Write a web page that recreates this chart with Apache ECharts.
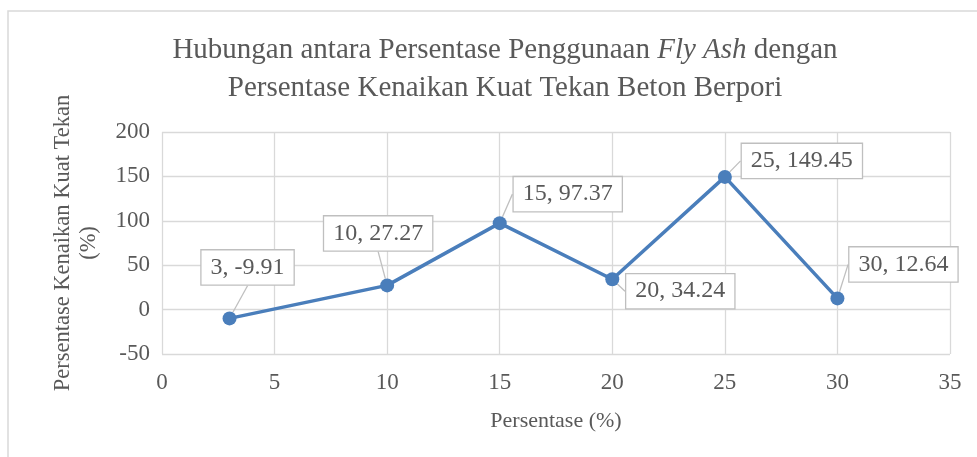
<!DOCTYPE html>
<html>
<head>
<meta charset="utf-8">
<script src="https://cdn.jsdelivr.net/npm/echarts@6/dist/echarts.min.js"></script>
<style>
html,body{margin:0;padding:0;background:#fff;}
#chart{width:977px;height:457px;}
</style>
</head>
<body>
<div id="chart"></div>
<script>
// Data
const xValues = [3, 10, 15, 20, 25, 30];
const yValues = [-9.91, 27.27, 97.37, 34.24, 149.45, 12.64];
const xTicks = [0, 5, 10, 15, 20, 25, 30, 35];
const yTicks = [-50, 0, 50, 100, 150, 200];
const titleLine1a = 'Hubungan antara Persentase Penggunaan ';
const titleItalic = 'Fly Ash';
const titleLine1b = ' dengan';
const titleLine2 = 'Persentase Kenaikan Kuat Tekan Beton Berpori';
const xName = 'Persentase (%)';
const yName = 'Persentase Kenaikan Kuat Tekan\n(%)';

// label offsets (pixels) for callouts
const labelShift = [[18, -51], [-9, -52], [68, -29], [68, 12], [77, -16], [66, -34]];

const FONT = '"Liberation Serif", "Times New Roman", serif';
const TXT = '#595959';

const chart = echarts.init(document.getElementById('chart'), null, {renderer: 'canvas'});
const option = {
  backgroundColor: '#ffffff',
  animation: false,
  graphic: [{
    type: 'rect', silent: true, z: -10,
    shape: {x: 8, y: 11, width: 1000, height: 500},
    style: {fill: 'none', stroke: '#d9d9d9', lineWidth: 1.5}
  }],
  title: {
    left: 500, top: 26, textAlign: 'center',
    text: '{n|' + titleLine1a + '}{i|' + titleItalic + '}{n|' + titleLine1b + '}\n{n|' + titleLine2 + '}',
    textStyle: {
      fontFamily: FONT, fontSize: 29, color: TXT, fontWeight: 'normal', lineHeight: 38,
      rich: {
        n: {fontFamily: FONT, fontSize: 29, color: TXT, lineHeight: 38},
        i: {fontFamily: FONT, fontSize: 29, color: TXT, fontStyle: 'italic', lineHeight: 38}
      }
    }
  },
  grid: {left: 162, right: 27, top: 132, bottom: 103, containLabel: false},
  xAxis: {
    type: 'value', min: xTicks[0], max: xTicks[xTicks.length - 1], interval: 5,
    name: xName, nameLocation: 'middle', nameGap: 56,
    nameTextStyle: {fontFamily: FONT, fontSize: 22, color: TXT},
    axisLine: {show: false}, axisTick: {show: false},
    axisLabel: {fontFamily: FONT, fontSize: 23, color: TXT, margin: 17},
    splitLine: {show: true, lineStyle: {color: '#d9d9d9', width: 1.3}}
  },
  yAxis: {
    type: 'value', min: yTicks[0], max: yTicks[yTicks.length - 1], interval: 50,
    name: yName, nameLocation: 'middle', nameGap: 60, nameRotate: 90,
    nameTextStyle: {fontFamily: FONT, fontSize: 22.5, color: TXT, lineHeight: 26},
    axisLine: {show: false}, axisTick: {show: false},
    axisLabel: {fontFamily: FONT, fontSize: 23, color: TXT, margin: 12},
    splitLine: {show: true, lineStyle: {color: '#d9d9d9', width: 1.3}}
  },
  series: [{
    type: 'line',
    data: xValues.map((x, i) => [x, yValues[i]]),
    symbol: 'circle', symbolSize: 14,
    lineStyle: {color: '#4a7ebb', width: 3.5},
    itemStyle: {color: '#4a7ebb'},
    label: {
      show: true, position: 'inside',
      formatter: p => p.value[0] + ', ' + p.value[1],
      fontFamily: FONT, fontSize: 24, color: TXT,
      backgroundColor: '#ffffff', borderColor: '#bfbfbf', borderWidth: 1.3,
      padding: [4, 9], lineHeight: 26
    },
    labelLine: {show: true, lineStyle: {color: '#bfbfbf', width: 1.3}},
    labelLayout: p => ({dx: labelShift[p.dataIndex][0], dy: labelShift[p.dataIndex][1]})
  }]
};
chart.setOption(option);
</script>
</body>
</html>
